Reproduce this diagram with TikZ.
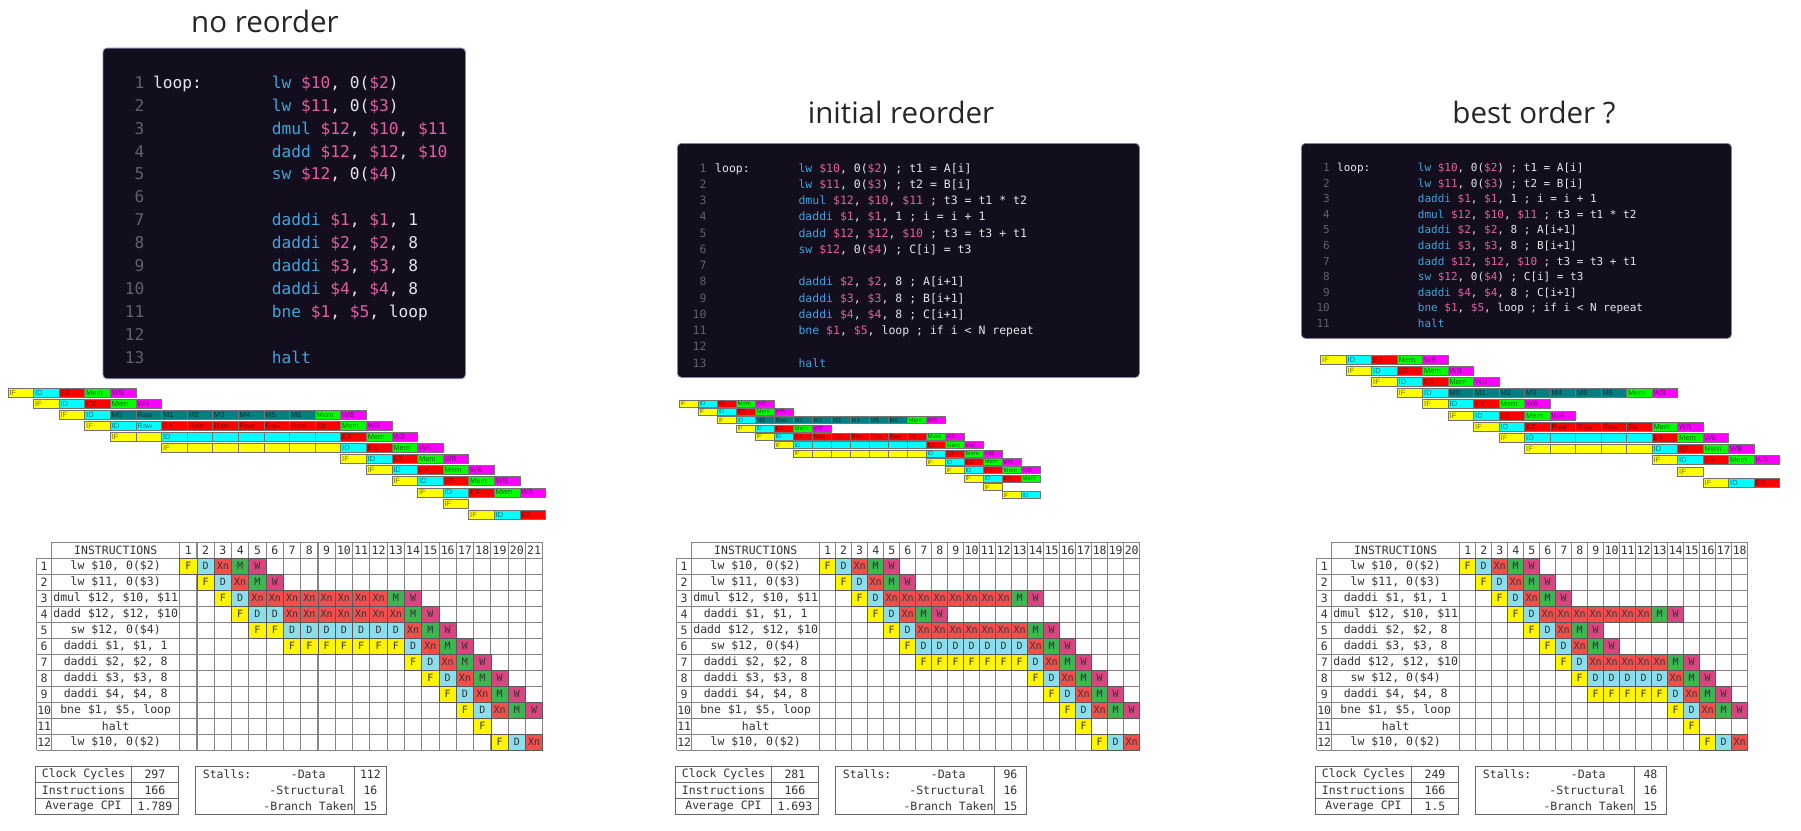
\documentclass[tikz,border=0pt]{standalone}
\usepackage{fontspec}
\setmainfont{Liberation Sans}
\newfontfamily\codefont{DejaVu Sans Mono}
\newfontfamily\titlefont{Open Sans}
\usetikzlibrary{positioning}
\definecolor{panelBg}{HTML}{120E1D}
\definecolor{panelBorder}{HTML}{8C82A8}
\definecolor{opBlue}{HTML}{3FA3DE}
\definecolor{regPink}{HTML}{E2619F}
\definecolor{codeWhite}{HTML}{E6E6EA}
\definecolor{lineGray}{HTML}{62606C}
\definecolor{ifYellow}{HTML}{FFFF00}
\definecolor{idCyan}{HTML}{00FFFF}
\definecolor{exRed}{HTML}{FF0000}
\definecolor{memGreen}{HTML}{00FF00}
\definecolor{wbMagenta}{HTML}{FF00FF}
\definecolor{mulTeal}{HTML}{008080}
\definecolor{cellF}{HTML}{FFF500}
\definecolor{cellD}{HTML}{8CDEEC}
\definecolor{cellX}{HTML}{F24E4E}
\definecolor{cellM}{HTML}{3FB455}
\definecolor{cellW}{HTML}{DA4580}
\definecolor{gridGray}{HTML}{858585}

\newcommand{\opc}[1]{\textcolor{opBlue}{#1}}
\newcommand{\regc}[1]{\textcolor{regPink}{#1}}

% lineas de codigo: tag, x numero, x codigo, y base, paso, lineas
\newcommand{\codelines}[6]{%
  \foreach \codeln [count=\cnum] in {#6} {
    \node[lineno] (#1-n\cnum) at ({#2}, {#4+(\cnum-1)*#5}) {\cnum};
    \node[codetxt] (#1-l\cnum) at ({#3}, {#4+(\cnum-1)*#5}) {\codeln};
  }
}

% fila del pipeline: tag, fila, ciclo inicial, etapas
\newcommand{\piperow}[4]{%
  \foreach \stg/\lab [count=\idx from 0] in {#4} {
    \node[stage, \stg] (#1-#2-\idx) at ({\pipX+(#3+\idx+0.5)*\pipW}, {\pipY+(#2-1)*\pipP+0.5*\pipH}) {\lab};
  }
}

% tabla de ciclos: tag, x0, y0, ciclos, instrucciones (ancho de celda en \tabC)
\newcommand{\pipetable}[5]{%
  \draw[gridline] ({#2+15}, {#3}) -- ({#2+143+\tabC*#4}, {#3});
  \foreach \k in {1,...,13}
    \draw[gridline] ({#2}, {#3+16*\k}) -- ({#2+143+\tabC*#4}, {#3+16*\k});
  \draw[gridline] ({#2}, {#3+16}) -- ({#2}, {#3+208});
  \draw[gridline] ({#2+15}, {#3}) -- ({#2+15}, {#3+208});
  \foreach \k in {0,...,#4}
    \draw[gridline] ({#2+143+\tabC*\k}, {#3}) -- ({#2+143+\tabC*\k}, {#3+208});
  \node[tabtxt] (#1-head) at ({#2+79}, {#3+8}) {INSTRUCTIONS};
  \foreach \k in {1,...,#4}
    \node[tabtxt] (#1-h\k) at ({#2+143+\tabC*(\k-0.5)}, {#3+8}) {\k};
  \foreach \ins [count=\rr] in {#5} {
    \node[tabtxt] (#1-n\rr) at ({#2+7.5}, {#3+16*\rr+8}) {\rr};
    \node[tabtxt] (#1-i\rr) at ({#2+79}, {#3+16*\rr+8}) {\ins};
  }
}

% celdas de color: fila, ciclo inicial, etapas
\newcommand{\cellrow}[3]{%
  \foreach \stg [count=\idx from 0] in {#3}
    \node[cell, tc\stg, minimum width=\tabC pt] (\tabT-r#1-\idx) at ({\tabX+143+\tabC*(#2+\idx-0.5)}, {\tabY+16*#1+8}) {\stg};
}

% estadisticas: tag, x, ciclos, cpi, stalls data
\newcommand{\statbox}[5]{%
  \draw[statline] ({#2},766) rectangle ({#2+143},814);
  \draw[statline] ({#2},782) -- ({#2+143},782);
  \draw[statline] ({#2},798) -- ({#2+143},798);
  \draw[statline] ({#2+95.5},766) -- ({#2+95.5},814);
  \draw[statline] ({#2+160},766) rectangle ({#2+350.5},814);
  \draw[statline] ({#2+319},766) -- ({#2+319},814);
  \node[stattxt] (#1-cyc) at ({#2+47.75},774) {Clock Cycles};
  \node[stattxt] (#1-ins) at ({#2+47.75},790) {Instructions};
  \node[stattxt] (#1-cpi) at ({#2+47.75},806) {Average CPI};
  \node[stattxt] (#1-cycv) at ({#2+119.25},774) {#3};
  \node[stattxt] (#1-insv) at ({#2+119.25},790) {166};
  \node[stattxt] (#1-cpiv) at ({#2+119.25},806) {#4};
  \node[stattxt, anchor=west] (#1-stall) at ({#2+167},774) {Stalls:};
  \node[stattxt] (#1-data) at ({#2+272.5},774) {-Data};
  \node[stattxt, anchor=east] (#1-str) at ({#2+310},790) {-Structural};
  \node[stattxt, anchor=east] (#1-br) at ({#2+318},806) {-Branch Taken};
  \node[stattxt] (#1-datav) at ({#2+334.75},774) {#5};
  \node[stattxt] (#1-strv) at ({#2+334.75},790) {16};
  \node[stattxt] (#1-brv) at ({#2+334.75},806) {15};
}

\begin{document}
\begin{tikzpicture}[
    x=1pt, y=-1pt,
    every node/.style={inner sep=0pt},
    title/.style={font=\titlefont\fontsize{29.5}{34}\selectfont, anchor=base, text=black!85},
    codepanel/.style={draw=panelBorder, fill=panelBg, line width=0.8pt, rounded corners=4pt, anchor=north west},
    lineno/.style={font=\codefont\codesize, text=lineGray, anchor=base east},
    codetxt/.style={font=\codefont\codesize, text=codeWhite, anchor=base west},
    stage/.style={draw=black!55, line width=0.8pt, inner xsep=1.5pt, inner ysep=0pt,
        text width=\pipTW pt, minimum height=\pipH pt, align=left, font=\pipF},
    sIF/.style={fill=ifYellow, text=ifYellow!45!black},
    sID/.style={fill=idCyan, text=idCyan!45!black},
    sEX/.style={fill=exRed, text=exRed!50!black},
    sMem/.style={fill=memGreen, text=memGreen!40!black},
    sWB/.style={fill=wbMagenta, text=wbMagenta!45!black},
    sMul/.style={fill=mulTeal, text=mulTeal!40!black},
    gridline/.style={draw=gridGray, line width=1.1pt},
    tabtxt/.style={font=\codefont\fontsize{11.5}{12}\selectfont, text=black!80},
    cell/.style={draw=black!65, line width=0.8pt, minimum height=16pt,
        font=\codefont\fontsize{10}{10}\selectfont, text=black!80},
    tcF/.style={fill=cellF},
    tcD/.style={fill=cellD},
    tcXn/.style={fill=cellX},
    tcM/.style={fill=cellM},
    tcW/.style={fill=cellW},
    statline/.style={draw=black!60, line width=0.9pt},
    stattxt/.style={font=\codefont\fontsize{11.5}{12}\selectfont, text=black!80},
]
\fill[white] (0,0) rectangle (1801,830);
\useasboundingbox (0,0) rectangle (1801,830);

% ===== Titulos =====
\node[title] (title1) at (265,32) {no reorder};
\node[title] (title2) at (901,123) {initial reorder};
\node[title] (title3) at (1534,123) {best order ?};

% ===== Codigo: no reorder =====
\node[codepanel, minimum width=362.4pt, minimum height=330.6pt] (code1) at (102.6,47.7) {};
\def\codesize{\fontsize{16.2}{18}\selectfont}
\node[codetxt] (c1-loop) at (153,88.3) {loop:};
\codelines{c1}{144.7}{271.7}{88.3}{22.9}{
    {\opc{lw} \regc{\$10}, 0(\regc{\$2})},
    {\opc{lw} \regc{\$11}, 0(\regc{\$3})},
    {\opc{dmul} \regc{\$12}, \regc{\$10}, \regc{\$11}},
    {\opc{dadd} \regc{\$12}, \regc{\$12}, \regc{\$10}},
    {\opc{sw} \regc{\$12}, 0(\regc{\$4})},
    {},
    {\opc{daddi} \regc{\$1}, \regc{\$1}, 1},
    {\opc{daddi} \regc{\$2}, \regc{\$2}, 8},
    {\opc{daddi} \regc{\$3}, \regc{\$3}, 8},
    {\opc{daddi} \regc{\$4}, \regc{\$4}, 8},
    {\opc{bne} \regc{\$1}, \regc{\$5}, loop},
    {},
    {\opc{halt}}}

% ===== Codigo: initial reorder =====
\node[codepanel, minimum width=462pt, minimum height=234pt] (code2) at (677,143) {};
\def\codesize{\fontsize{11.5}{13}\selectfont}
\node[codetxt] (c2-loop) at (715,172) {loop:};
\codelines{c2}{706.7}{798.3}{172}{16.25}{
    {\opc{lw} \regc{\$10}, 0(\regc{\$2}) ; t1 = A[i]},
    {\opc{lw} \regc{\$11}, 0(\regc{\$3}) ; t2 = B[i]},
    {\opc{dmul} \regc{\$12}, \regc{\$10}, \regc{\$11} ; t3 = t1 * t2},
    {\opc{daddi} \regc{\$1}, \regc{\$1}, 1 ; i = i + 1},
    {\opc{dadd} \regc{\$12}, \regc{\$12}, \regc{\$10} ; t3 = t3 + t1},
    {\opc{sw} \regc{\$12}, 0(\regc{\$4}) ; C[i] = t3},
    {},
    {\opc{daddi} \regc{\$2}, \regc{\$2}, 8 ; A[i+1]},
    {\opc{daddi} \regc{\$3}, \regc{\$3}, 8 ; B[i+1]},
    {\opc{daddi} \regc{\$4}, \regc{\$4}, 8 ; C[i+1]},
    {\opc{bne} \regc{\$1}, \regc{\$5}, loop ; if i < N repeat},
    {},
    {\opc{halt}}}

% ===== Codigo: best order =====
\node[codepanel, minimum width=430pt, minimum height=195pt] (code3) at (1301,143) {};
\def\codesize{\fontsize{11}{13}\selectfont}
\node[codetxt] (c3-loop) at (1337,171.7) {loop:};
\codelines{c3}{1330}{1417.7}{171.7}{15.56}{
    {\opc{lw} \regc{\$10}, 0(\regc{\$2}) ; t1 = A[i]},
    {\opc{lw} \regc{\$11}, 0(\regc{\$3}) ; t2 = B[i]},
    {\opc{daddi} \regc{\$1}, \regc{\$1}, 1 ; i = i + 1},
    {\opc{dmul} \regc{\$12}, \regc{\$10}, \regc{\$11} ; t3 = t1 * t2},
    {\opc{daddi} \regc{\$2}, \regc{\$2}, 8 ; A[i+1]},
    {\opc{daddi} \regc{\$3}, \regc{\$3}, 8 ; B[i+1]},
    {\opc{dadd} \regc{\$12}, \regc{\$12}, \regc{\$10} ; t3 = t3 + t1},
    {\opc{sw} \regc{\$12}, 0(\regc{\$4}) ; C[i] = t3},
    {\opc{daddi} \regc{\$4}, \regc{\$4}, 8 ; C[i+1]},
    {\opc{bne} \regc{\$1}, \regc{\$5}, loop ; if i < N repeat},
    {\opc{halt}}}

% ===== Pipeline 1 =====
\def\pipX{7.9}\def\pipY{388}\def\pipW{25.6}\def\pipP{11.1}\def\pipH{9}
\def\pipF{\fontsize{7.5}{7.5}\selectfont}
\pgfmathsetmacro\pipTW{\pipW-3}
\piperow{p1}{1}{0}{sIF/IF, sID/ID, sEX/EX, sMem/Mem, sWB/WB}
\piperow{p1}{2}{1}{sIF/IF, sID/ID, sEX/EX, sMem/Mem, sWB/WB}
\piperow{p1}{3}{2}{sIF/IF, sID/ID, sMul/M0, sMul/Raw, sMul/M1, sMul/M2, sMul/M3, sMul/M4, sMul/M5, sMul/M6, sMem/Mem, sWB/WB}
\piperow{p1}{4}{3}{sIF/IF, sID/ID, sID/Raw, sEX/EX, sEX/Raw, sEX/Raw, sEX/Raw, sEX/Raw, sEX/Raw, sEX/Str, sMem/Mem, sWB/WB}
\piperow{p1}{5}{4}{sIF/IF, sIF/{}, sID/ID, sID/{}, sID/{}, sID/{}, sID/{}, sID/{}, sID/{}, sEX/EX, sMem/Mem, sWB/WB}
\piperow{p1}{6}{6}{sIF/IF, sIF/{}, sIF/{}, sIF/{}, sIF/{}, sIF/{}, sIF/{}, sID/ID, sEX/EX, sMem/Mem, sWB/WB}
\piperow{p1}{7}{13}{sIF/IF, sID/ID, sEX/EX, sMem/Mem, sWB/WB}
\piperow{p1}{8}{14}{sIF/IF, sID/ID, sEX/EX, sMem/Mem, sWB/WB}
\piperow{p1}{9}{15}{sIF/IF, sID/ID, sEX/EX, sMem/Mem, sWB/WB}
\piperow{p1}{10}{16}{sIF/IF, sID/ID, sEX/EX, sMem/Mem, sWB/WB}
\piperow{p1}{11}{17}{sIF/IF}
\piperow{p1}{12}{18}{sIF/IF, sID/ID, sEX/EX}

% ===== Pipeline 2 =====
\def\pipX{679}\def\pipY{400}\def\pipW{19}\def\pipP{8.35}\def\pipH{7}
\def\pipF{\fontsize{6}{6}\selectfont}
\pgfmathsetmacro\pipTW{\pipW-3}
\piperow{p2}{1}{0}{sIF/IF, sID/ID, sEX/EX, sMem/Mem, sWB/WB}
\piperow{p2}{2}{1}{sIF/IF, sID/ID, sEX/EX, sMem/Mem, sWB/WB}
\piperow{p2}{3}{2}{sIF/IF, sID/ID, sMul/M0, sMul/Raw, sMul/M1, sMul/M2, sMul/M3, sMul/M4, sMul/M5, sMul/M6, sMem/Mem, sWB/WB}
\piperow{p2}{4}{3}{sIF/IF, sID/ID, sEX/EX, sMem/Mem, sWB/WB}
\piperow{p2}{5}{4}{sIF/IF, sID/ID, sEX/EX, sEX/Raw, sEX/Raw, sEX/Raw, sEX/Raw, sEX/Raw, sEX/Str, sMem/Mem, sWB/WB}
\piperow{p2}{6}{5}{sIF/IF, sID/ID, sID/{}, sID/{}, sID/{}, sID/{}, sID/{}, sID/{}, sEX/EX, sMem/Mem, sWB/WB}
\piperow{p2}{7}{6}{sIF/IF, sIF/{}, sIF/{}, sIF/{}, sIF/{}, sIF/{}, sIF/{}, sID/ID, sEX/EX, sMem/Mem, sWB/WB}
\piperow{p2}{8}{13}{sIF/IF, sID/ID, sEX/EX, sMem/Mem, sWB/WB}
\piperow{p2}{9}{14}{sIF/IF, sID/ID, sEX/EX, sMem/Mem, sWB/WB}
\piperow{p2}{10}{15}{sIF/IF, sID/ID, sEX/EX, sMem/Mem}
\piperow{p2}{11}{16}{sIF/IF}
\piperow{p2}{12}{17}{sIF/IF, sID/ID}

% ===== Pipeline 3 =====
\def\pipX{1320.7}\def\pipY{355}\def\pipW{25.5}\def\pipP{11.2}\def\pipH{9}
\def\pipF{\fontsize{7.5}{7.5}\selectfont}
\pgfmathsetmacro\pipTW{\pipW-3}
\piperow{p3}{1}{0}{sIF/IF, sID/ID, sEX/EX, sMem/Mem, sWB/WB}
\piperow{p3}{2}{1}{sIF/IF, sID/ID, sEX/EX, sMem/Mem, sWB/WB}
\piperow{p3}{3}{2}{sIF/IF, sID/ID, sEX/EX, sMem/Mem, sWB/WB}
\piperow{p3}{4}{3}{sIF/IF, sID/ID, sMul/M0, sMul/M1, sMul/M2, sMul/M3, sMul/M4, sMul/M5, sMul/M6, sMem/Mem, sWB/WB}
\piperow{p3}{5}{4}{sIF/IF, sID/ID, sEX/EX, sMem/Mem, sWB/WB}
\piperow{p3}{6}{5}{sIF/IF, sID/ID, sEX/EX, sMem/Mem, sWB/WB}
\piperow{p3}{7}{6}{sIF/IF, sID/ID, sEX/EX, sEX/Raw, sEX/Raw, sEX/Raw, sEX/Str, sMem/Mem, sWB/WB}
\piperow{p3}{8}{7}{sIF/IF, sID/ID, sID/{}, sID/{}, sID/{}, sID/{}, sEX/EX, sMem/Mem, sWB/WB}
\piperow{p3}{9}{8}{sIF/IF, sIF/{}, sIF/{}, sIF/{}, sIF/{}, sID/ID, sEX/EX, sMem/Mem, sWB/WB}
\piperow{p3}{10}{13}{sIF/IF, sID/ID, sEX/EX, sMem/Mem, sWB/WB}
\piperow{p3}{11}{14}{sIF/IF}
\piperow{p3}{12}{15}{sIF/IF, sID/ID, sEX/EX}

% ===== Tabla 1 =====
\def\tabT{t1}\def\tabX{36.7}\def\tabY{542.3}\def\tabC{17.29}
\pipetable{t1}{36.7}{542.3}{21}{{lw \$10, 0(\$2)}, {lw \$11, 0(\$3)}, {dmul \$12, \$10, \$11}, {dadd \$12, \$12, \$10}, {sw \$12, 0(\$4)}, {daddi \$1, \$1, 1}, {daddi \$2, \$2, 8}, {daddi \$3, \$3, 8}, {daddi \$4, \$4, 8}, {bne \$1, \$5, loop}, {halt}, {lw \$10, 0(\$2)}}
\cellrow{1}{1}{F,D,Xn,M,W}
\cellrow{2}{2}{F,D,Xn,M,W}
\cellrow{3}{3}{F,D,Xn,Xn,Xn,Xn,Xn,Xn,Xn,Xn,M,W}
\cellrow{4}{4}{F,D,D,Xn,Xn,Xn,Xn,Xn,Xn,Xn,M,W}
\cellrow{5}{5}{F,F,D,D,D,D,D,D,D,Xn,M,W}
\cellrow{6}{7}{F,F,F,F,F,F,F,D,Xn,M,W}
\cellrow{7}{14}{F,D,Xn,M,W}
\cellrow{8}{15}{F,D,Xn,M,W}
\cellrow{9}{16}{F,D,Xn,M,W}
\cellrow{10}{17}{F,D,Xn,M,W}
\cellrow{11}{18}{F}
\cellrow{12}{19}{F,D,Xn}

% ===== Tabla 2 =====
\def\tabT{t2}\def\tabX{676.7}\def\tabY{542.3}\def\tabC{16}
\pipetable{t2}{676.7}{542.3}{20}{{lw \$10, 0(\$2)}, {lw \$11, 0(\$3)}, {dmul \$12, \$10, \$11}, {daddi \$1, \$1, 1}, {dadd \$12, \$12, \$10}, {sw \$12, 0(\$4)}, {daddi \$2, \$2, 8}, {daddi \$3, \$3, 8}, {daddi \$4, \$4, 8}, {bne \$1, \$5, loop}, {halt}, {lw \$10, 0(\$2)}}
\cellrow{1}{1}{F,D,Xn,M,W}
\cellrow{2}{2}{F,D,Xn,M,W}
\cellrow{3}{3}{F,D,Xn,Xn,Xn,Xn,Xn,Xn,Xn,Xn,M,W}
\cellrow{4}{4}{F,D,Xn,M,W}
\cellrow{5}{5}{F,D,Xn,Xn,Xn,Xn,Xn,Xn,Xn,M,W}
\cellrow{6}{6}{F,D,D,D,D,D,D,D,Xn,M,W}
\cellrow{7}{7}{F,F,F,F,F,F,F,D,Xn,M,W}
\cellrow{8}{14}{F,D,Xn,M,W}
\cellrow{9}{15}{F,D,Xn,M,W}
\cellrow{10}{16}{F,D,Xn,M,W}
\cellrow{11}{17}{F}
\cellrow{12}{18}{F,D,Xn}

% ===== Tabla 3 =====
\def\tabT{t3}\def\tabX{1316.7}\def\tabY{542.3}\def\tabC{16}
\pipetable{t3}{1316.7}{542.3}{18}{{lw \$10, 0(\$2)}, {lw \$11, 0(\$3)}, {daddi \$1, \$1, 1}, {dmul \$12, \$10, \$11}, {daddi \$2, \$2, 8}, {daddi \$3, \$3, 8}, {dadd \$12, \$12, \$10}, {sw \$12, 0(\$4)}, {daddi \$4, \$4, 8}, {bne \$1, \$5, loop}, {halt}, {lw \$10, 0(\$2)}}
\cellrow{1}{1}{F,D,Xn,M,W}
\cellrow{2}{2}{F,D,Xn,M,W}
\cellrow{3}{3}{F,D,Xn,M,W}
\cellrow{4}{4}{F,D,Xn,Xn,Xn,Xn,Xn,Xn,Xn,M,W}
\cellrow{5}{5}{F,D,Xn,M,W}
\cellrow{6}{6}{F,D,Xn,M,W}
\cellrow{7}{7}{F,D,Xn,Xn,Xn,Xn,Xn,M,W}
\cellrow{8}{8}{F,D,D,D,D,D,Xn,M,W}
\cellrow{9}{9}{F,F,F,F,F,D,Xn,M,W}
\cellrow{10}{14}{F,D,Xn,M,W}
\cellrow{11}{15}{F}
\cellrow{12}{16}{F,D,Xn}

% ===== Estadisticas =====
\statbox{s1}{35.7}{297}{1.789}{112}
\statbox{s2}{675.7}{281}{1.693}{96}
\statbox{s3}{1315.7}{249}{1.5}{48}

\end{tikzpicture}
\end{document}
